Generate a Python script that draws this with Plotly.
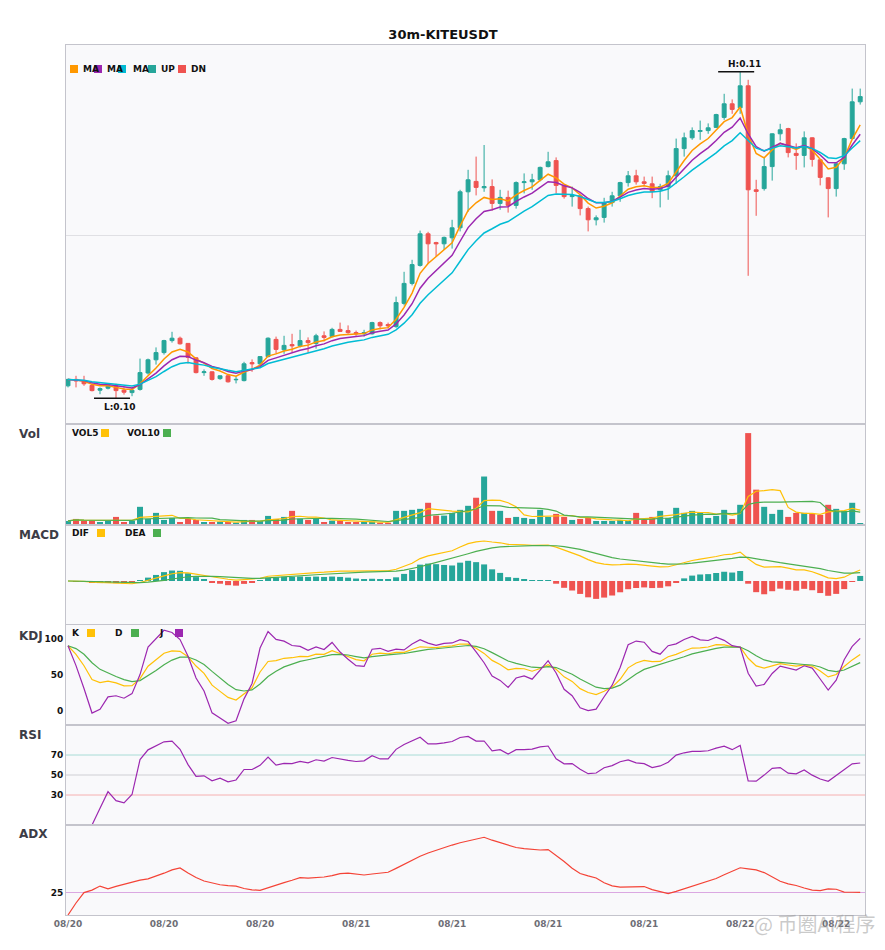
import pandas as pd
import plotly.graph_objects as go
from plotly.subplots import make_subplots

# ── Datos: velas de 30m KITEUSDT ──────────────────────────────────────────────
open_ = [0.10123, 0.10139, 0.10134, 0.10124, 0.10112, 0.10117, 0.10123, 0.10112, 0.10106, 0.10114,
         0.10155, 0.10188, 0.10206, 0.10236, 0.10242, 0.10229, 0.10193, 0.10156, 0.10158, 0.10141,
         0.10148, 0.10138, 0.10136, 0.10181, 0.10178, 0.10196, 0.10239, 0.10213, 0.10226, 0.10223,
         0.10236, 0.10229, 0.10248, 0.10246, 0.10264, 0.10261, 0.10256, 0.10253, 0.10253, 0.10281,
         0.10276, 0.10271, 0.10329, 0.10379, 0.10424, 0.10503, 0.10481, 0.10478, 0.10493, 0.10518,
         0.10608, 0.10634, 0.10618, 0.10621, 0.10579, 0.10594, 0.10574, 0.10631, 0.10633, 0.10638,
         0.10671, 0.10686, 0.10624, 0.10596, 0.10598, 0.10566, 0.10538, 0.10544, 0.10581, 0.10598,
         0.10631, 0.10648, 0.10633, 0.10628, 0.10613, 0.10621, 0.10648, 0.10716, 0.10743, 0.10759,
         0.10761, 0.10769, 0.10794, 0.10828, 0.10818, 0.10873, 0.10613, 0.10616, 0.10671, 0.10753,
         0.10766, 0.10704, 0.10699, 0.10743, 0.10688, 0.10643, 0.10616, 0.10678, 0.10741, 0.10833]
high_ = [0.10141, 0.10148, 0.10148, 0.10128, 0.10119, 0.10129, 0.10128, 0.10119, 0.10119, 0.10191,
         0.10191, 0.10219, 0.10238, 0.10258, 0.10246, 0.10230, 0.10194, 0.10164, 0.10159, 0.10149,
         0.10150, 0.10146, 0.10183, 0.10189, 0.10197, 0.10244, 0.10246, 0.10248, 0.10253, 0.10263,
         0.10244, 0.10253, 0.10259, 0.10268, 0.10281, 0.10274, 0.10261, 0.10263, 0.10283, 0.10284,
         0.10281, 0.10346, 0.10408, 0.10438, 0.10511, 0.10508, 0.10483, 0.10496, 0.10538, 0.10613,
         0.10663, 0.10696, 0.10725, 0.10639, 0.10613, 0.10611, 0.10634, 0.10654, 0.10653, 0.10671,
         0.10708, 0.10694, 0.10625, 0.10621, 0.10599, 0.10571, 0.10549, 0.10593, 0.10608, 0.10633,
         0.10660, 0.10663, 0.10646, 0.10646, 0.10628, 0.10661, 0.10741, 0.10756, 0.10769, 0.10786,
         0.10779, 0.10803, 0.10853, 0.10839, 0.10908, 0.10888, 0.10638, 0.10693, 0.10754, 0.10778,
         0.10768, 0.10729, 0.10759, 0.10744, 0.10689, 0.10644, 0.10679, 0.10743, 0.10866, 0.10866]
low_ = [0.10119, 0.10119, 0.10123, 0.10109, 0.10102, 0.10114, 0.10092, 0.10101, 0.10097, 0.10111,
        0.10151, 0.10176, 0.10201, 0.10231, 0.10226, 0.10179, 0.10154, 0.10148, 0.10136, 0.10138,
        0.10131, 0.10129, 0.10134, 0.10158, 0.10174, 0.10194, 0.10203, 0.10203, 0.10206, 0.10219,
        0.10206, 0.10216, 0.10234, 0.10244, 0.10258, 0.10253, 0.10248, 0.10246, 0.10251, 0.10264,
        0.10266, 0.10268, 0.10324, 0.10374, 0.10421, 0.10428, 0.10446, 0.10463, 0.10466, 0.10509,
        0.10558, 0.10599, 0.10608, 0.10561, 0.10563, 0.10556, 0.10566, 0.10604, 0.10613, 0.10634,
        0.10669, 0.10604, 0.10591, 0.10571, 0.10549, 0.10509, 0.10524, 0.10531, 0.10571, 0.10583,
        0.10621, 0.10626, 0.10623, 0.10592, 0.10569, 0.10588, 0.10628, 0.10696, 0.10738, 0.10738,
        0.10753, 0.10768, 0.10788, 0.10803, 0.10803, 0.10398, 0.10548, 0.10611, 0.10636, 0.10736,
        0.10694, 0.10663, 0.10669, 0.10671, 0.10624, 0.10544, 0.10596, 0.10663, 0.10740, 0.10826]
close_ = [0.10139, 0.10135, 0.10128, 0.10111, 0.10116, 0.10123, 0.10111, 0.10107, 0.10112, 0.10156,
          0.10188, 0.10206, 0.10236, 0.10242, 0.10228, 0.10194, 0.10156, 0.10158, 0.10139, 0.10148,
          0.10133, 0.10139, 0.10178, 0.10178, 0.10196, 0.10242, 0.10214, 0.10224, 0.10223, 0.10236,
          0.10231, 0.10248, 0.10244, 0.10264, 0.10259, 0.10256, 0.10253, 0.10256, 0.10281, 0.10273,
          0.10273, 0.10331, 0.10379, 0.10426, 0.10503, 0.10478, 0.10478, 0.10494, 0.10518, 0.10608,
          0.10638, 0.10619, 0.10621, 0.10579, 0.10594, 0.10574, 0.10631, 0.10633, 0.10638, 0.10669,
          0.10683, 0.10624, 0.10596, 0.10599, 0.10566, 0.10538, 0.10543, 0.10581, 0.10598, 0.10631,
          0.10648, 0.10633, 0.10629, 0.10609, 0.10621, 0.10648, 0.10716, 0.10743, 0.10761, 0.10761,
          0.10768, 0.10801, 0.10828, 0.10814, 0.10873, 0.10613, 0.10609, 0.10671, 0.10753, 0.10763,
          0.10706, 0.10699, 0.10743, 0.10689, 0.10644, 0.10616, 0.10678, 0.10741, 0.10833, 0.10846]
# volumen en miles
volume = [40, 60, 43, 43, 30, 43, 80, 30, 43, 180,
          60, 120, 50, 70, 30, 60, 50, 30, 30, 33,
          30, 23, 50, 50, 40, 90, 60, 80, 140, 63,
          50, 63, 30, 43, 43, 30, 30, 30, 33, 23,
          23, 140, 140, 150, 160, 220, 93, 93, 120, 150,
          190, 270, 480, 140, 140, 70, 80, 70, 60, 150,
          80, 110, 80, 50, 60, 70, 40, 40, 40, 50,
          40, 120, 50, 80, 140, 70, 170, 120, 140, 120,
          70, 90, 150, 60, 200, 910, 350, 180, 110, 150,
          80, 120, 120, 110, 100, 200, 160, 140, 220, 20]

UP, DN = "#26a69a", "#ef5350"
FONT = "DejaVu Sans"

times = pd.date_range("2025-08-20 06:00", periods=len(close_), freq="30min")
df = pd.DataFrame({"o": open_, "h": high_, "l": low_, "c": close_, "v": volume}, index=times)

# ── Indicadores ───────────────────────────────────────────────────────────────
def ema(s, n):
    return s.ewm(span=n, adjust=False).mean()

ma_a, ma_b, ma_c = ema(df.c, 5), ema(df.c, 8), ema(df.c, 13)
vol5 = df.v.rolling(5, min_periods=1).mean()
vol10 = df.v.rolling(10, min_periods=1).mean()

dif = ema(df.c, 12) - ema(df.c, 26)
dea = ema(dif, 9)
hist = 2 * (dif - dea)

low9 = df.l.rolling(9, min_periods=1).min()
high9 = df.h.rolling(9, min_periods=1).max()
rsv = (df.c - low9) / (high9 - low9) * 100
k = rsv.ewm(com=2, adjust=False).mean()
d = k.ewm(com=2, adjust=False).mean()
j = 3 * k - 2 * d

# RSI 14 (suavizado de Wilder)
delta = df.c.diff()
gain = delta.clip(lower=0).ewm(alpha=1 / 14, adjust=True).mean()
loss = (-delta.clip(upper=0)).ewm(alpha=1 / 14, adjust=True).mean()
rsi = 100 * gain / (gain + loss)

prev_c = df.c.shift()
tr = pd.concat([df.h - df.l, (df.h - prev_c).abs(), (df.l - prev_c).abs()], axis=1).max(axis=1)
up_mv = df.h.diff()
dn_mv = -df.l.diff()
pdm = up_mv.where((up_mv > dn_mv) & (up_mv > 0), 0).fillna(0)
mdm = dn_mv.where((dn_mv > up_mv) & (dn_mv > 0), 0).fillna(0)
atr = ema(tr, 14)
pdi = 100 * ema(pdm, 14) / atr
mdi = 100 * ema(mdm, 14) / atr
dx = (100 * (pdi - mdi).abs() / (pdi + mdi)).fillna(0)
adx = ema(dx, 14)

# ── Figura ────────────────────────────────────────────────────────────────────
fig = make_subplots(rows=6, cols=1, shared_xaxes=True, vertical_spacing=0,
                    row_heights=[379, 101, 100, 100, 100, 90])

fig.add_trace(go.Candlestick(
    x=times, open=df.o, high=df.h, low=df.l, close=df.c,
    increasing=dict(line=dict(color=UP, width=1), fillcolor=UP),
    decreasing=dict(line=dict(color=DN, width=1), fillcolor=DN),
    whiskerwidth=0, showlegend=False,
), row=1, col=1)
for s, col in [(ma_a, "#ff9800"), (ma_b, "#9c27b0"), (ma_c, "#00bcd4")]:
    fig.add_trace(go.Scatter(x=times, y=s, mode="lines", line=dict(color=col, width=1.5),
                             showlegend=False), row=1, col=1)

bar_w = 1350000  # ms, ~3/4 de vela
candle_col = [UP if c >= o else DN for o, c in zip(df.o, df.c)]
fig.add_trace(go.Bar(x=times, y=df.v, width=bar_w, marker=dict(color=candle_col, line_width=0),
                     showlegend=False), row=2, col=1)
fig.add_trace(go.Scatter(x=times, y=vol5, mode="lines", line=dict(color="#ffc107", width=1.2),
                         showlegend=False), row=2, col=1)
fig.add_trace(go.Scatter(x=times, y=vol10, mode="lines", line=dict(color="#4caf50", width=1.2),
                         showlegend=False), row=2, col=1)

fig.add_trace(go.Bar(x=times, y=hist, width=bar_w,
                     marker=dict(color=[UP if h >= 0 else DN for h in hist], line_width=0),
                     showlegend=False), row=3, col=1)
fig.add_trace(go.Scatter(x=times, y=dif, mode="lines", line=dict(color="#ffc107", width=1.2),
                         showlegend=False), row=3, col=1)
fig.add_trace(go.Scatter(x=times, y=dea, mode="lines", line=dict(color="#4caf50", width=1.2),
                         showlegend=False), row=3, col=1)

for s, col in [(k, "#ffc107"), (d, "#4caf50"), (j, "#9c27b0")]:
    fig.add_trace(go.Scatter(x=times, y=s, mode="lines", line=dict(color=col, width=1.2),
                             showlegend=False), row=4, col=1)
fig.add_trace(go.Scatter(x=times, y=rsi, mode="lines", line=dict(color="#9c27b0", width=1.2),
                         showlegend=False), row=5, col=1)
fig.add_trace(go.Scatter(x=times, y=adx, mode="lines", line=dict(color="#f44336", width=1.2),
                         showlegend=False), row=6, col=1)

# líneas de referencia
for row, val, col in [(4, 100, "#a8dcd6"), (4, 50, "#cfcfd4"), (4, 0, "#f6b0b0"),
                      (5, 70, "#a8dcd6"), (5, 50, "#cfcfd4"), (5, 30, "#f6b0b0"),
                      (6, 25, "#dba8e2")]:
    fig.add_hline(y=val, row=row, col=1, line=dict(color=col, width=1), layer="below")

# ── Ejes ──────────────────────────────────────────────────────────────────────
half = pd.Timedelta(minutes=30)
x_range = [times[0] - 0.25 * half, times[-1] + 0.6 * half]
BORDER = "#c4c4cc"
fig.update_xaxes(range=x_range, showgrid=False, showline=True, mirror=True, linecolor=BORDER,
                 linewidth=1, zeroline=False, ticks="", rangeslider_visible=False)
fig.update_xaxes(showticklabels=True, tickformat="%m/%d", dtick=6 * 3600 * 1000, tick0=times[0],
                 tickfont=dict(family=FONT, size=9, color="#6e6e76", weight="bold"), row=6, col=1)
fig.update_yaxes(showline=True, mirror=True, linecolor=BORDER, linewidth=1, zeroline=False,
                 showgrid=False, ticks="", showticklabels=False,
                 tickfont=dict(family=FONT, size=9, color="#111", weight="bold"))
fig.update_yaxes(range=[0.100275, 0.10975], showgrid=True, gridcolor="#e0e0e4",
                 dtick=0.005, tick0=0.1, row=1, col=1)
fig.update_yaxes(range=[0, 1000], row=2, col=1)
m = max(dif.max(), hist.max())
fig.update_yaxes(range=[-1.1 * m, 1.4 * m], row=3, col=1)
fig.update_yaxes(range=[-20, 120], tickvals=[0, 50, 100], showticklabels=True, row=4, col=1)
fig.update_yaxes(range=[0, 100], tickvals=[30, 50, 70], showticklabels=True, row=5, col=1)
fig.update_yaxes(range=[0, 100], tickvals=[25], showticklabels=True, row=6, col=1)

# ── Anotaciones (coordenadas de pantalla en píxeles -> papel) ─────────────────
L, R, T, B = 66, 865, 45, 915   # área de trazado en la captura
OFF = 8                          # margen del <body> del navegador
W, H = 870, 942
fx = lambda p: (p - L) / (R - L)
fy = lambda p: (B - p) / (B - T)

annots, shapes = [], []

def txt(x, y, s, size=9, color="#111", anchor="left"):
    annots.append(dict(x=fx(x), y=fy(y), xref="paper", yref="paper", text=f"<b>{s}</b>",
                       showarrow=False, xanchor=anchor, yanchor="middle",
                       font=dict(family=FONT, size=size, color=color)))

def sq(x, y, color):
    shapes.append(dict(type="rect", xref="paper", yref="paper", x0=fx(x), x1=fx(x + 8),
                       y0=fy(y + 4), y1=fy(y - 4), fillcolor=color, line=dict(width=0)))

for xs, col, xt, s in [(70, "#ff9800", 81, "MA"), (94, "#9c27b0", 105, "MA"),
                       (118, "#00bcd4", 131, "MA"), (148, UP, 159, "UP"), (178, DN, 189, "DN")]:
    txt(xt, 69, s)
    sq(xs, 69, col)
for xt, s, xs, col in [(70, "VOL5", 101, "#ffc107"), (125, "VOL10", 163, "#4caf50")]:
    txt(xt, 433, s); sq(xs, 433, col)
for xt, s, xs, col in [(70, "DIF", 97, "#ffc107"), (123, "DEA", 153, "#4caf50")]:
    txt(xt, 533, s); sq(xs, 533, col)
for xt, s, xs, col in [(70, "K", 87, "#ffc107"), (113, "D", 131, "#4caf50"), (157, "J", 175, "#9c27b0")]:
    txt(xt, 633, s); sq(xs, 633, col)

for s, y in [("Vol", 434), ("MACD", 535), ("KDJ", 636), ("RSI", 735), ("ADX", 834)]:
    txt(17, y, s, size=12, color="#3c3c46")

# máximo y mínimo
i_hi, i_lo = int(df.h.values.argmax()), int(df.l.values.argmin())
for i, val, lab, ya, ys in [(i_hi, df.h.iloc[i_hi], "H", "bottom", 1),
                            (i_lo, df.l.iloc[i_lo], "L", "top", -2)]:
    shapes.append(dict(type="line", xref="x", yref="y", x0=times[i] - 2.75 * half,
                       x1=times[i] + 1.75 * half, y0=val, y1=val, line=dict(color="#111", width=1.5)))
    annots.append(dict(x=times[i] + 0.5 * half, y=val, xref="x", yref="y",
                       text=f"<b>{lab}:{val:.2f}</b>", showarrow=False, xanchor="center",
                       yanchor=ya, yshift=ys, font=dict(family=FONT, size=9, color="#111")))

annots.append(dict(x=fx(877), y=fy(923), xref="paper", yref="paper", text="@ 币圈AI程序",
                   showarrow=False, xanchor="right", yanchor="middle",
                   font=dict(family="Noto Sans CJK SC", size=20, color="rgba(150,150,150,0.5)")))

fig.update_layout(
    width=W, height=H,
    title=dict(text="<b>30m-KITEUSDT</b>", x=0.5, xanchor="center", y=1 - (34 - OFF) / H,
               yanchor="middle", font=dict(family=FONT, size=13, color="#111")),
    margin=dict(l=L - OFF, r=W - (R - OFF), t=T - OFF, b=H - (B - OFF)),
    paper_bgcolor="white", plot_bgcolor="#f9f9fb",
    font=dict(family=FONT),
    showlegend=False, hovermode="x",
    annotations=annots, shapes=list(fig.layout.shapes) + shapes,
)
fig.write_html("out.html")
